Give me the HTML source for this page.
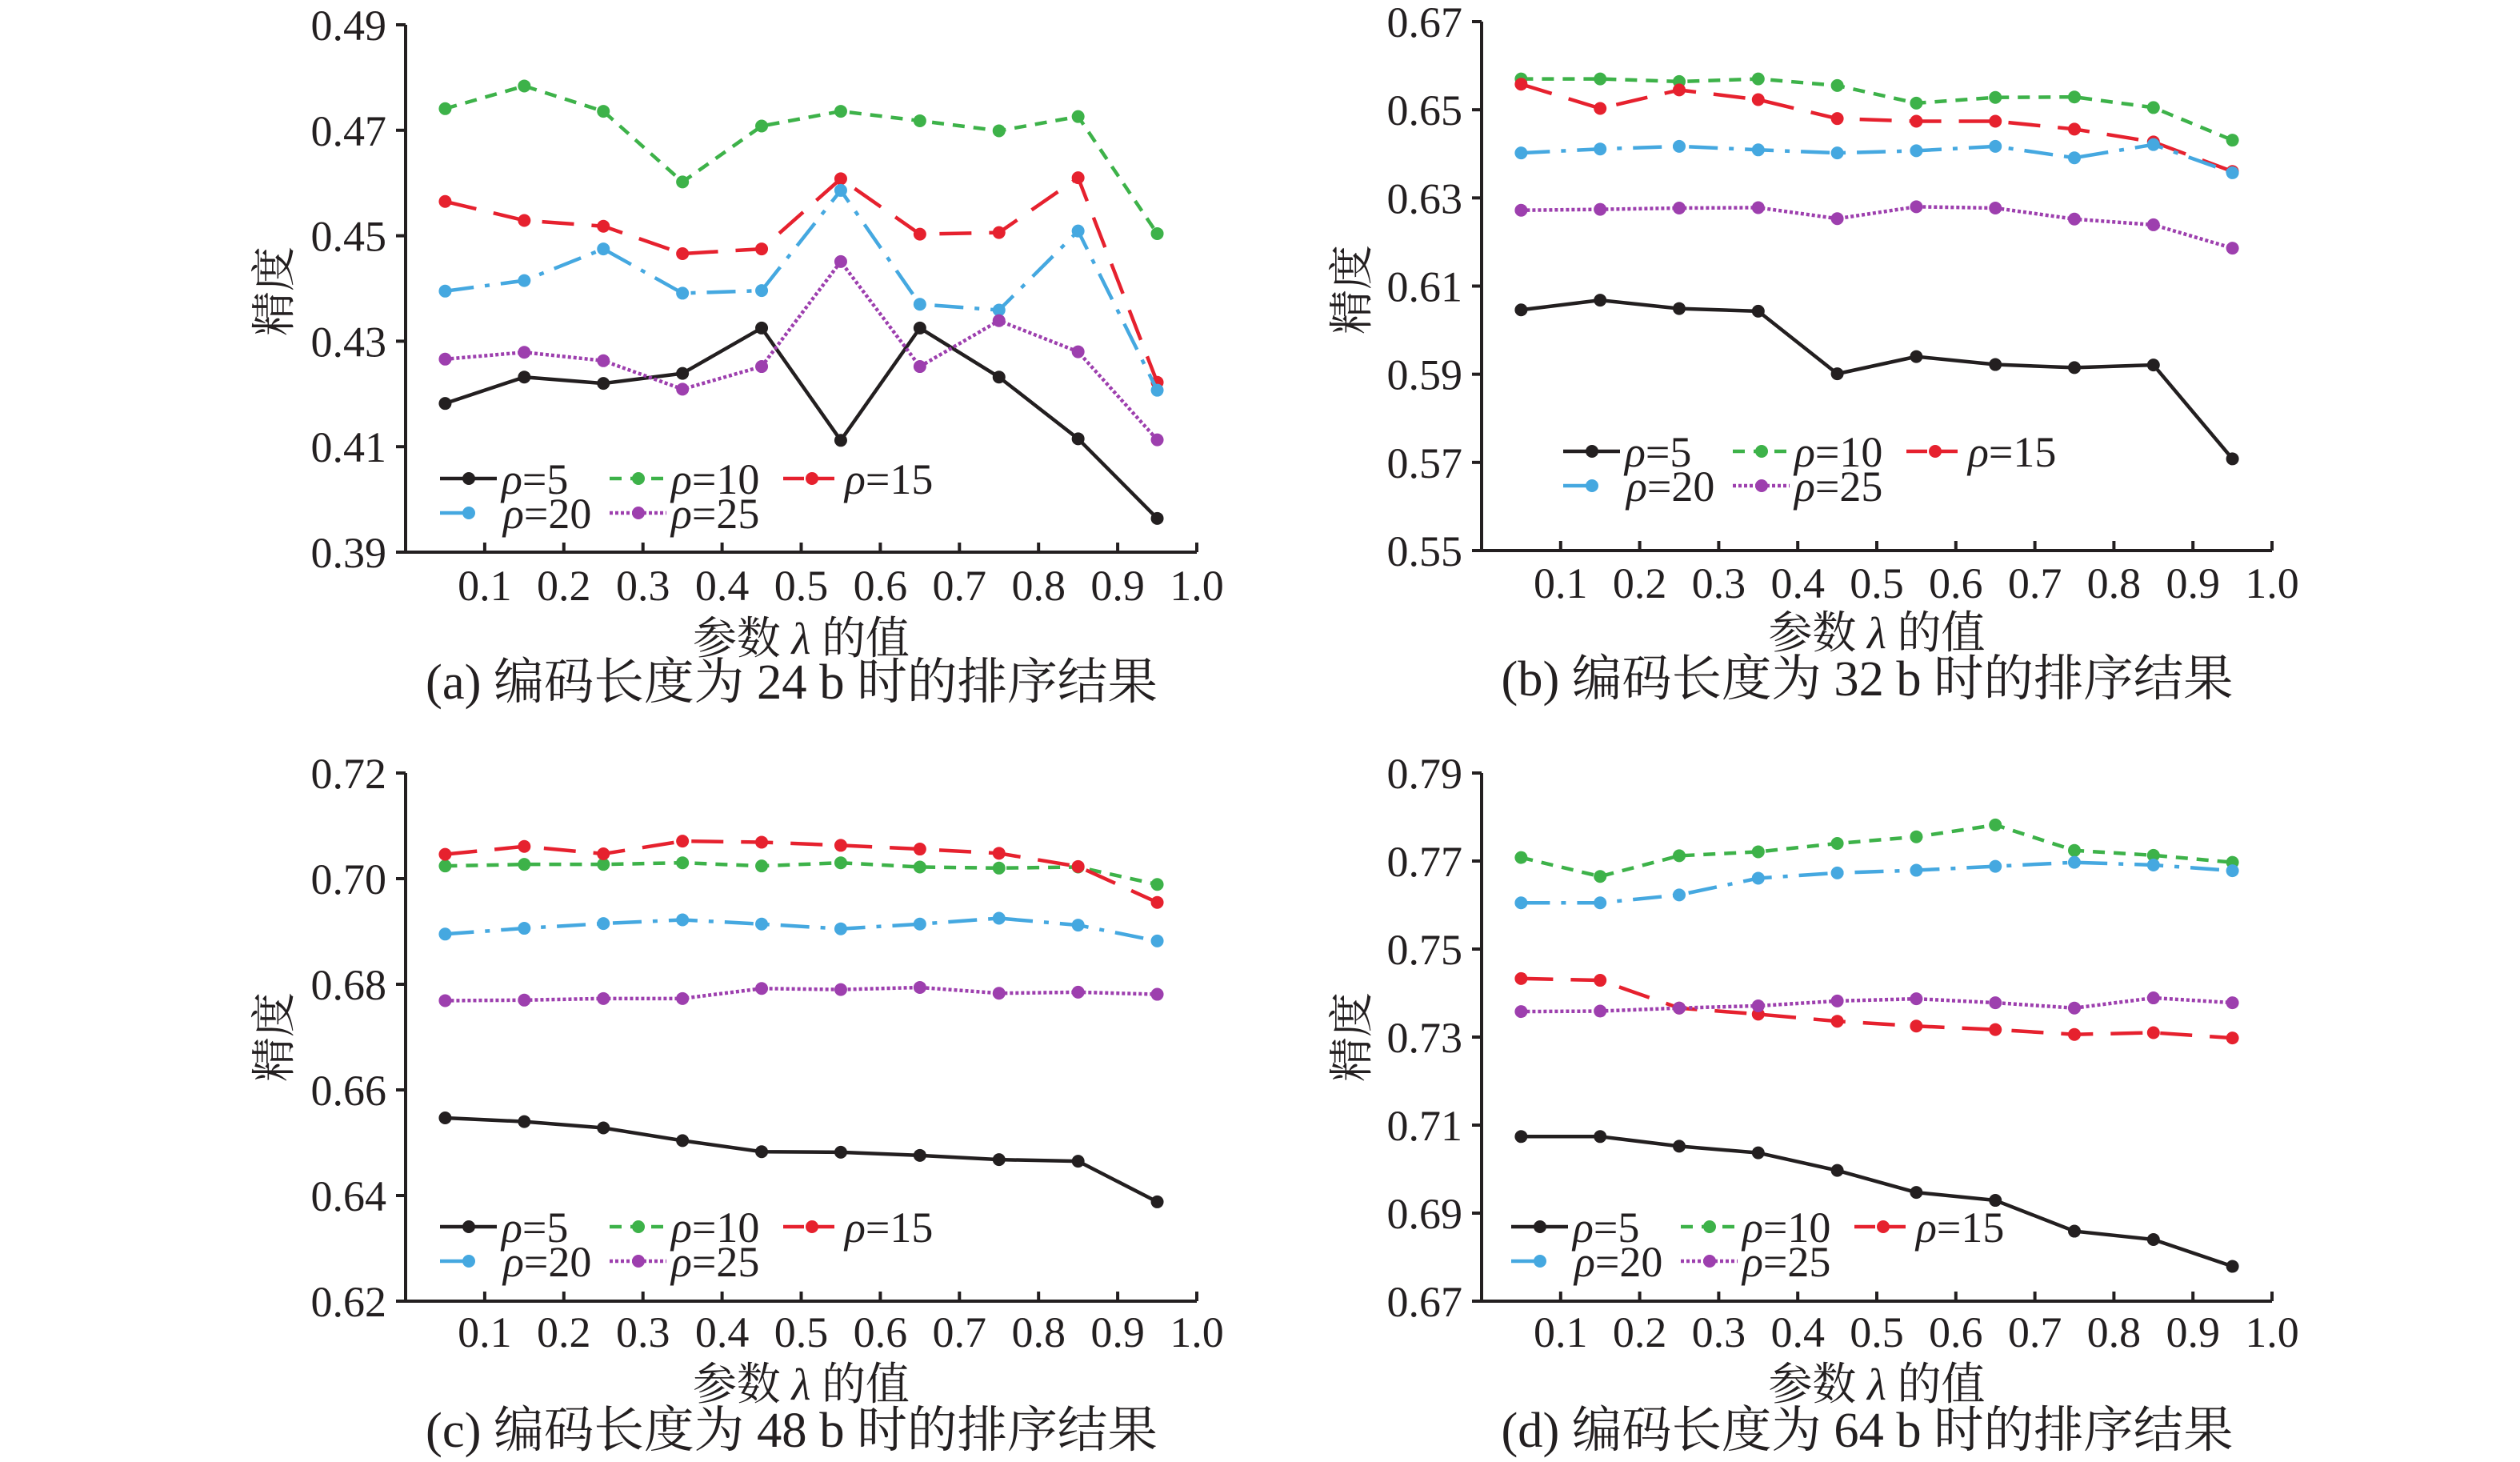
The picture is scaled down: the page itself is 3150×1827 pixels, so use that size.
<!DOCTYPE html>
<html><head><meta charset="utf-8">
<style>
html,body{margin:0;padding:0;background:#fff;}
svg{display:block;}
text{font-family:"Liberation Serif","Noto Serif CJK SC",serif;fill:#231f20;}
.cjk{font-family:"Liberation Serif","Noto Serif CJK SC","Noto Sans CJK SC",serif;}
</style></head>
<body>
<svg id="fig" width="3150" height="1827" viewBox="0 0 3150 1827" xmlns="http://www.w3.org/2000/svg"></svg>
<script>
const xCategories = [0.05,0.15,0.25,0.35,0.45,0.55,0.65,0.75,0.85,0.95];
const xTickLabels = ["0.1","0.2","0.3","0.4","0.5","0.6","0.7","0.8","0.9","1.0"];
const seriesNames = ["ρ=5","ρ=10","ρ=15","ρ=20","ρ=25"];

const a_yTicks = ["0.39","0.41","0.43","0.45","0.47","0.49"];
const a_rho5  = [0.4182,0.4232,0.4220,0.4239,0.4325,0.4112,0.4325,0.4232,0.4115,0.3964];
const a_rho10 = [0.4741,0.4784,0.4736,0.4602,0.4708,0.4736,0.4718,0.4699,0.4726,0.4504];
const a_rho15 = [0.4565,0.4529,0.4518,0.4466,0.4475,0.4608,0.4503,0.4506,0.4610,0.4222];
const a_rho20 = [0.4395,0.4415,0.4475,0.4391,0.4396,0.4586,0.4370,0.4359,0.4509,0.4207];
const a_rho25 = [0.4266,0.4279,0.4263,0.4209,0.4252,0.4451,0.4252,0.4339,0.4280,0.4113];

const b_yTicks = ["0.55","0.57","0.59","0.61","0.63","0.65","0.67"];
const b_rho5  = [0.6046,0.6068,0.6049,0.6043,0.5901,0.5940,0.5922,0.5915,0.5921,0.5708];
const b_rho10 = [0.6570,0.6570,0.6564,0.6570,0.6555,0.6515,0.6528,0.6529,0.6505,0.6431];
const b_rho15 = [0.6558,0.6503,0.6545,0.6523,0.6480,0.6474,0.6474,0.6456,0.6427,0.6360];
const b_rho20 = [0.6402,0.6411,0.6417,0.6409,0.6402,0.6407,0.6417,0.6391,0.6421,0.6357];
const b_rho25 = [0.6272,0.6274,0.6277,0.6278,0.6253,0.6280,0.6277,0.6252,0.6239,0.6186];

const c_yTicks = ["0.62","0.64","0.66","0.68","0.70","0.72"];
const c_rho5  = [0.6547,0.6540,0.6528,0.6504,0.6483,0.6482,0.6476,0.6468,0.6465,0.6388];
const c_rho10 = [0.7024,0.7027,0.7027,0.7030,0.7024,0.7030,0.7022,0.7020,0.7022,0.6989];
const c_rho15 = [0.7046,0.7061,0.7047,0.7071,0.7069,0.7063,0.7056,0.7048,0.7023,0.6955];
const c_rho20 = [0.6895,0.6906,0.6915,0.6922,0.6914,0.6905,0.6914,0.6925,0.6912,0.6882];
const c_rho25 = [0.6769,0.6770,0.6773,0.6773,0.6792,0.6790,0.6794,0.6783,0.6785,0.6781];

const d_yTicks = ["0.67","0.69","0.71","0.73","0.75","0.77","0.79"];
const d_rho5  = [0.7074,0.7074,0.7052,0.7037,0.6997,0.6947,0.6929,0.6859,0.6840,0.6779];
const d_rho10 = [0.7708,0.7665,0.7712,0.7721,0.7740,0.7755,0.7782,0.7724,0.7713,0.7697];
const d_rho15 = [0.7433,0.7429,0.7366,0.7352,0.7336,0.7325,0.7317,0.7306,0.7310,0.7298];
const d_rho20 = [0.7605,0.7605,0.7623,0.7661,0.7673,0.7679,0.7688,0.7697,0.7691,0.7678];
const d_rho25 = [0.7358,0.7359,0.7366,0.7371,0.7382,0.7387,0.7378,0.7366,0.7389,0.7378];

const captions = ["(a) 编码长度为 24 b 时的排序结果","(b) 编码长度为 32 b 时的排序结果","(c) 编码长度为 48 b 时的排序结果","(d) 编码长度为 64 b 时的排序结果"];

const NS = "http://www.w3.org/2000/svg";
const svg = document.getElementById("fig");
const colors = ["#231f20","#3db249","#e6212e","#45a8e0","#9d3fae"];
const dashes = ["", "15 11", "40 22", "36 14 6 14", "4 3"];

function mk(tag, attrs, parent){
  const e = document.createElementNS(NS, tag);
  for (const k in attrs) e.setAttribute(k, attrs[k]);
  (parent||svg).appendChild(e);
  return e;
}

const panels = [
  {key:"a", ax:507, x1:1496, top:31, bot:690, ticks:a_yTicks, series:[a_rho5,a_rho10,a_rho15,a_rho20,a_rho25], tickY:750, xlY:817, capY:873, ylx:342, yly:364, lgx:550, lgy:598},
  {key:"b", ax:1852, x1:2840, top:27, bot:688, ticks:b_yTicks, series:[b_rho5,b_rho10,b_rho15,b_rho20,b_rho25], tickY:747, xlY:810, capY:869, ylx:1689, yly:362, lgx:1954, lgy:564},
  {key:"c", ax:507, x1:1496, top:966, bot:1626, ticks:c_yTicks, series:[c_rho5,c_rho10,c_rho15,c_rho20,c_rho25], tickY:1683, xlY:1749, capY:1808, ylx:342, yly:1296, lgx:550, lgy:1533},
  {key:"d", ax:1852, x1:2840, top:966, bot:1626, ticks:d_yTicks, series:[d_rho5,d_rho10,d_rho15,d_rho20,d_rho25], tickY:1683, xlY:1749, capY:1808, ylx:1689, yly:1296, lgx:1889, lgy:1533}
];

panels.forEach((p, pi) => {
  const g = mk("g", {});
  
  
  const yMin = parseFloat(p.ticks[0]), yMax = parseFloat(p.ticks[p.ticks.length-1]);
  const xs = v => p.ax + (p.x1 - p.ax) * v;
  const ys = v => p.bot - (v - yMin) / (yMax - yMin) * (p.bot - p.top);

  const axes = mk("path", {d:`M${p.ax},${p.top} L${p.ax},${p.bot} L${p.x1},${p.bot}`, fill:"none", stroke:"#231f20", "stroke-width":4}, g);
  
  

  p.ticks.forEach(t => {
    const y = ys(parseFloat(t));
    mk("line", {x1:p.ax-12, x2:p.ax, y1:y, y2:y, stroke:"#231f20", "stroke-width":4}, g);
    const tx = mk("text", {x:p.ax-24, y:y+19, "font-size":54, "text-anchor":"end"}, g);
    tx.textContent = t;
    
    
  });
  xTickLabels.forEach(t => {
    const x = xs(parseFloat(t));
    mk("line", {x1:x, x2:x, y1:p.bot, y2:p.bot-12, stroke:"#231f20", "stroke-width":4}, g);
    const tx = mk("text", {x:x, y:p.tickY, "font-size":54, "text-anchor":"middle"}, g);
    tx.textContent = t;
    
    
  });

  p.series.forEach((vals, si) => {
    const sg = mk("g", {}, g);
    
    
    const pts = vals.map((v,i) => xs(xCategories[i]) + "," + ys(v)).join(" ");
    const attrs = {points:pts, fill:"none", stroke:colors[si], "stroke-width":4.5, "stroke-linejoin":"round"};
    if (dashes[si]) attrs["stroke-dasharray"] = dashes[si];
    mk("polyline", attrs, sg);
    vals.forEach((v,i) => {
      const c = mk("circle", {cx:xs(xCategories[i]), cy:ys(v), r:8, fill:colors[si]}, sg);
      
      
    });
  });

  const lg = mk("g", {}, g);
  
  
  const colOff = [0, 212, 429];
  seriesNames.forEach((name, si) => {
    const row = si < 3 ? 0 : 1;
    const col = si < 3 ? si : si - 3;
    const lx = p.lgx + colOff[col];
    const ly = p.lgy + row * 43;
    const e = mk("g", {}, lg);
    
    
    const len = (si === 3) ? 36 : 71;
    const la = {x1:lx, x2:lx+len, y1:ly, y2:ly, stroke:colors[si], "stroke-width":4.5};
    if (si === 1) la["stroke-dasharray"] = "15 11";
    else if (si === 2) la["stroke-dasharray"] = "26 12";
    else if (dashes[si]) la["stroke-dasharray"] = dashes[si];
    mk("line", la, e);
    mk("circle", {cx:lx+36, cy:ly, r:8, fill:colors[si]}, e);
    const tx = mk("text", {x:lx + (si===3 ? 79 : 77), y:ly+19, "font-size":54}, e);
    const rho = mk("tspan", {"font-style":"italic"}, tx);
    rho.textContent = "ρ";
    const rest = mk("tspan", {}, tx);
    rest.textContent = name.slice(1);
  });

  const yl = mk("text", {x:0, y:0, "font-size":56, "text-anchor":"middle", class:"cjk", transform:`translate(${p.ylx+20},${p.yly}) rotate(-90)`}, g);
  yl.textContent = "精度";
  
  

  const xcx = (p.ax + p.x1) / 2;
  const xl = mk("text", {x:xcx, y:p.xlY, "font-size":56, "text-anchor":"middle", class:"cjk", textLength:271, lengthAdjust:"spacingAndGlyphs"}, g);
  const t1 = mk("tspan", {}, xl); t1.textContent = "参数 ";
  const t2 = mk("tspan", {"font-style":"italic"}, xl); t2.textContent = "λ";
  const t3 = mk("tspan", {}, xl); t3.textContent = " 的值";
  
  

  const cap = mk("text", {x:xcx - 12, y:p.capY, "font-size":62, "text-anchor":"middle", class:"cjk", textLength:915, lengthAdjust:"spacingAndGlyphs"}, g);
  cap.textContent = captions[pi];
  
  
});
</script>
</body></html>
